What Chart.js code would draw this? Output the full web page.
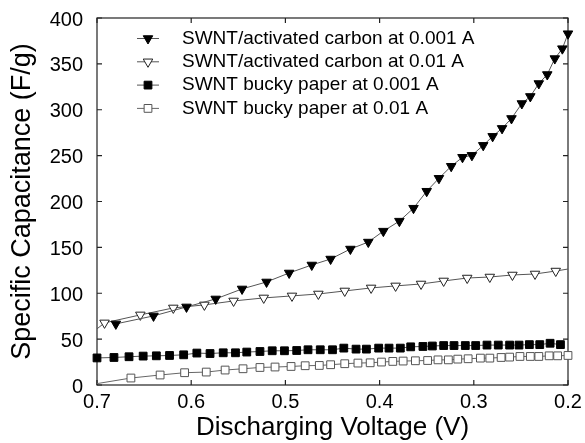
<!DOCTYPE html>
<html>
<head>
<meta charset="utf-8">
<script src="https://cdn.jsdelivr.net/npm/chart.js@4"></script>
<style>
  html, body { margin: 0; padding: 0; background: #fff; }
  #wrap { width: 585px; height: 443px; }
</style>
</head>
<body>
<div id="wrap"><canvas id="capChart"></canvas></div>
<script>
// Data (voltage in V, capacitance in F/g)
const acSlowV = [0.68, 0.64, 0.605, 0.574, 0.546, 0.52, 0.496, 0.472, 0.452, 0.431, 0.412, 0.396, 0.379, 0.364, 0.35,
  0.337, 0.324, 0.312, 0.302, 0.29, 0.28, 0.27, 0.26, 0.249, 0.24, 0.231, 0.222, 0.214, 0.206, 0.2];
const acSlowC = [66.6, 75.3, 85.1, 93.8, 104.7, 112.3, 122.1, 130.8, 137.3, 148.2, 155.8, 167.7, 178.6, 192.7, 211.2,
  225.3, 238.4, 248.2, 250.3, 261.2, 271.0, 279.7, 290.5, 306.8, 314.5, 328.6, 338.4, 355.8, 366.6, 382.9];

// first and last entries are line ends with no marker
const acFastV = [0.7, 0.692, 0.654, 0.619, 0.586, 0.555, 0.523, 0.493, 0.465, 0.437, 0.409, 0.383, 0.356, 0.332, 0.307,
  0.283, 0.259, 0.235, 0.213, 0.2];
const acFastC = [61.2, 67.7, 76.4, 84.0, 87.3, 91.6, 94.9, 97.1, 99.2, 102.5, 105.8, 108.0, 110.1, 113.4, 116.6,
  117.7, 119.9, 121.0, 124.2, 126.4];

const buckySlowV = [0.7, 0.682, 0.666, 0.651, 0.637, 0.623, 0.608, 0.594, 0.58, 0.566, 0.553, 0.541, 0.527, 0.514, 0.501,
  0.488, 0.476, 0.463, 0.45, 0.438, 0.425, 0.414, 0.401, 0.39, 0.378, 0.367, 0.354, 0.344, 0.332, 0.321,
  0.309, 0.298, 0.286, 0.274, 0.262, 0.252, 0.241, 0.23, 0.219, 0.208];
const buckySlowC = [29.5, 30.0, 30.8, 31.5, 31.8, 32.2, 32.9, 34.8, 34.3, 35.1, 35.1, 35.9, 36.5, 37.3, 37.3,
  37.6, 38.4, 38.4, 38.4, 40.2, 39.1, 39.1, 40.2, 40.2, 40.2, 41.6, 42.0, 42.5, 43.0, 43.0,
  43.0, 43.0, 43.5, 43.5, 43.5, 43.5, 44.0, 44.0, 45.5, 44.0];

// first entry is the line start with no marker
const buckyFastV = [0.7, 0.664, 0.633, 0.607, 0.584, 0.564, 0.545, 0.527, 0.511, 0.494, 0.479, 0.464, 0.452, 0.437, 0.423,
  0.41, 0.398, 0.386, 0.375, 0.362, 0.349, 0.338, 0.327, 0.317, 0.306, 0.293, 0.283, 0.271, 0.262, 0.251,
  0.24, 0.231, 0.22, 0.211, 0.2];
const buckyFastC = [1.5, 7.6, 10.9, 13.4, 14.1, 16.3, 17.7, 19.1, 19.6, 20.2, 21.0, 21.3, 22.1, 23.2, 23.9,
  24.2, 25.0, 25.7, 26.1, 26.4, 26.7, 27.4, 27.4, 28.2, 28.6, 29.3, 29.3, 30.0, 30.4, 31.1,
  31.1, 31.1, 31.8, 31.8, 32.2];

const seriesLabels = [
  'SWNT/activated carbon at 0.001 A',
  'SWNT/activated carbon at 0.01 A',
  'SWNT bucky paper at 0.001 A',
  'SWNT bucky paper at 0.01 A'
];

const FONT = "'Liberation Sans', Arial, Helvetica, sans-serif";

function pts(xs, ys) {
  return xs.map((v, i) => ({ x: v, y: ys[i] }));
}

// Frame round the plot with inward tick marks on all four sides
const frameTicks = {
  id: 'frameTicks',
  beforeDatasetsDraw(chart) {
    const { ctx, chartArea: a, scales } = chart;
    ctx.save();
    ctx.strokeStyle = '#222';
    ctx.lineWidth = 1.2;
    ctx.strokeRect(a.left, a.top, a.right - a.left, a.bottom - a.top);
    ctx.beginPath();
    scales.x.ticks.forEach(t => {
      const px = scales.x.getPixelForValue(t.value);
      ctx.moveTo(px, a.bottom); ctx.lineTo(px, a.bottom - 5);
      ctx.moveTo(px, a.top); ctx.lineTo(px, a.top + 5);
    });
    scales.y.ticks.forEach(t => {
      const py = scales.y.getPixelForValue(t.value);
      ctx.moveTo(a.left, py); ctx.lineTo(a.left + 5, py);
      ctx.moveTo(a.right, py); ctx.lineTo(a.right - 5, py);
    });
    ctx.stroke();
    ctx.restore();
  }
};

// Legend sitting inside the plot, top left
const insetLegend = {
  id: 'insetLegend',
  afterDraw(chart) {
    const { ctx, chartArea: a } = chart;
    ctx.save();
    ctx.font = '19px ' + FONT;
    ctx.textBaseline = 'middle';
    chart.data.datasets.forEach((ds, i) => {
      const y = a.top + 20.5 + i * 23.3;
      const x0 = a.left + 40;
      ctx.strokeStyle = ds.borderColor;
      ctx.lineWidth = 1;
      ctx.beginPath();
      ctx.moveTo(x0, y);
      ctx.lineTo(x0 + 22, y);
      ctx.stroke();
      ctx.fillStyle = ds.pointBackgroundColor;
      ctx.strokeStyle = ds.pointBorderColor;
      Chart.helpers.drawPoint(ctx, {
        pointStyle: ds.pointStyle, rotation: ds.pointRotation || 0,
        radius: ds.legendRadius, borderWidth: 1
      }, x0 + 11, y);
      ctx.fillStyle = '#000';
      ctx.fillText(ds.label, a.left + 85, y);
    });
    ctx.restore();
  }
};

const baseSet = { showLine: true, borderWidth: 1, pointBorderWidth: 1, clip: false, tension: 0 };

new Chart(document.getElementById('capChart'), {
  type: 'scatter',
  data: {
    datasets: [
      Object.assign({}, baseSet, {
        label: seriesLabels[0], data: pts(acSlowV, acSlowC),
        borderColor: '#555', pointStyle: 'triangle', pointRotation: 180,
        pointBackgroundColor: '#000', pointBorderColor: '#000', pointRadius: 5.5, legendRadius: 5.5
      }),
      Object.assign({}, baseSet, {
        label: seriesLabels[1], data: pts(acFastV, acFastC),
        borderColor: '#555', pointStyle: 'triangle', pointRotation: 180,
        pointBackgroundColor: '#fff', pointBorderColor: '#222', legendRadius: 5.5,
        pointRadius: acFastV.map((v, i) => (i === 0 || i === acFastV.length - 1) ? 0 : 5.5)
      }),
      Object.assign({}, baseSet, {
        label: seriesLabels[2], data: pts(buckySlowV, buckySlowC),
        borderColor: '#555', pointStyle: 'rect',
        pointBackgroundColor: '#000', pointBorderColor: '#000', pointRadius: 5.5, legendRadius: 5.5
      }),
      Object.assign({}, baseSet, {
        label: seriesLabels[3], data: pts(buckyFastV, buckyFastC),
        borderColor: '#666', pointStyle: 'rect',
        pointBackgroundColor: '#fff', pointBorderColor: '#555', legendRadius: 5.5,
        pointRadius: buckyFastV.map((v, i) => i === 0 ? 0 : 5.5)
      })
    ]
  },
  options: {
    responsive: true,
    maintainAspectRatio: false,
    animation: false,
    layout: { padding: { top: 17, right: 17, left: 0, bottom: 0 } },
    plugins: { legend: { display: false }, tooltip: { enabled: false } },
    scales: {
      x: {
        type: 'linear', reverse: true, min: 0.2, max: 0.7,
        grid: { display: false }, border: { display: false },
        ticks: {
          stepSize: 0.1, padding: -3, color: '#000', font: { family: FONT, size: 20 },
          callback: v => v.toFixed(1)
        },
        title: { display: true, text: 'Discharging Voltage (V)', color: '#000',
          font: { family: FONT, size: 26 }, padding: { top: 0, bottom: 0 } },
        afterFit(scale) { scale.height = 58; }
      },
      y: {
        min: 0, max: 400,
        grid: { display: false }, border: { display: false },
        ticks: { stepSize: 50, padding: 6, labelOffset: 2, color: '#000', font: { family: FONT, size: 20 } },
        title: { display: true, text: 'Specific Capacitance (F/g)', color: '#000',
          font: { family: FONT, size: 27 }, padding: { top: 6, bottom: 0 } },
        afterFit(scale) { scale.width = 97; }
      }
    }
  },
  plugins: [frameTicks, insetLegend]
});
</script>
</body>
</html>
